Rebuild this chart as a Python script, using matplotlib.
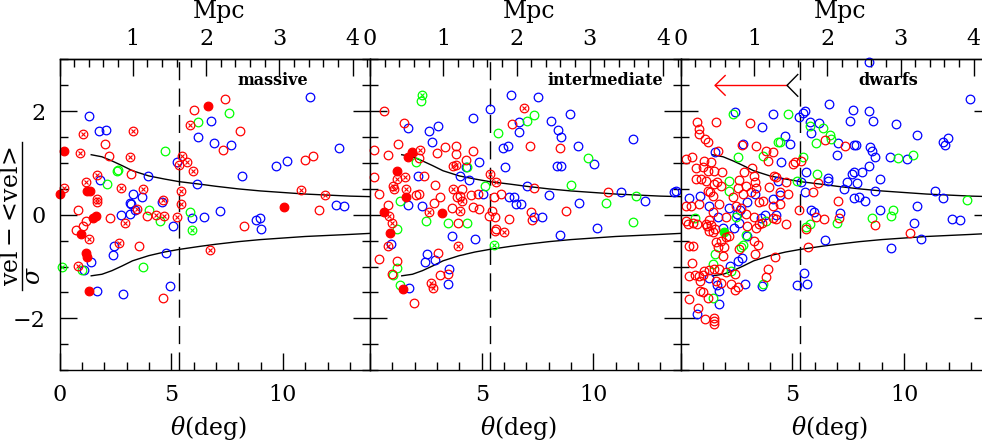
import matplotlib
matplotlib.use('Agg')
import matplotlib.pyplot as plt
from matplotlib.lines import Line2D
from matplotlib.ticker import MultipleLocator, FixedLocator, FixedFormatter

plt.rcParams['font.family'] = 'DejaVu Serif'
plt.rcParams['mathtext.fontset'] = 'dejavuserif'

# ---------------- data ----------------
panel_names = ['massive', 'intermediate', 'dwarfs']

# envelope curves (theta in deg, normalised velocity)
curve_theta = [1.42, 1.9, 2.35, 2.8, 3.27, 4.0, 4.7, 5.35, 6.3, 7.0, 8.0, 9.0, 10.0, 11.0, 12.0, 13.0, 13.9]
curve_upper = [1.16, 1.12, 1.04, 0.95, 0.85, 0.75, 0.69, 0.64, 0.59, 0.55, 0.50, 0.46, 0.43, 0.40, 0.38, 0.36, 0.35]
curve_lower = [-1.18, -1.15, -1.08, -0.99, -0.89, -0.79, -0.72, -0.67, -0.61, -0.57, -0.52, -0.48, -0.45, -0.42, -0.40, -0.38, -0.36]
theta_split = 5.35
deg_per_mpc = 3.28

# arrow in dwarfs panel
arrow_from = 4.76
arrow_to = 1.54
arrow_y = 2.50

# ---- massive ----
m_red_open = [(2.04,1.37),(2.22,1.14),(3.21,0.79),(0.81,0.09),(2.27,-0.06),(3.91,-0.02),(0.75,-0.30),(1.07,-0.21),
              (1.19,-0.12),(3.58,-0.61),(4.63,-1.61),(7.42,2.24),(6.04,2.03),(7.34,1.26),(8.09,1.61),(11.0,1.06),
              (11.37,1.13),(11.63,0.09),(8.27,-0.22)]
m_red_cross = [(1.07,1.57),(3.28,1.62),(0.91,1.20),(3.16,1.12),(5.48,1.14),(5.33,0.96),(5.70,1.01),(5.97,0.85),
               (1.67,0.77),(1.19,0.63),(0.18,0.51),(1.67,0.30),(1.70,0.24),(2.75,0.51),(3.76,0.50),(3.46,0.12),
               (4.64,0.29),(5.45,0.46),(5.43,0.21),(4.31,0.0),(4.70,-0.02),(5.25,-0.05),(2.94,-0.15),(1.34,-0.47),
               (2.67,-0.54),(0.81,-0.99),(6.72,-0.68),(5.85,1.74),(10.82,0.47),(11.90,0.39)]
m_red_fill = [(0.22,1.23),(1.22,0.46),(1.37,0.46),(0.0,0.40),(1.52,-0.06),(1.63,-0.02),(0.97,-0.37),(1.19,-0.73),
              (1.25,-0.81),(1.30,-1.47),(6.67,2.10),(10.07,0.15)]
m_blue = [(1.30,1.91),(1.79,1.61),(2.06,1.63),(5.25,1.01),(3.96,0.75),(1.82,0.68),(3.31,0.40),(3.69,0.35),(3.16,0.23),
          (3.21,0.21),(3.39,0.09),(4.57,0.25),(2.75,0.0),(3.16,0.01),(5.10,-0.21),(5.93,-0.06),(6.45,-0.05),(7.19,0.08),
          (2.42,-0.60),(2.39,-0.77),(1.40,-0.91),(1.10,-1.07),(4.76,-0.73),(1.67,-1.47),(2.84,-1.53),(4.93,-1.37),
          (6.78,1.81),(6.19,1.50),(6.93,1.38),(7.69,1.35),(6.15,0.60),(8.19,0.74),(9.70,0.95),(10.18,1.04),
          (11.22,2.27),(12.49,1.29),(12.37,0.19),(12.72,0.16),(8.81,-0.10),(8.99,-0.06),(9.01,-0.28)]
m_green = [(4.72,1.23),(2.57,0.84),(2.64,0.87),(2.12,0.59),(4.01,0.09),(4.48,-0.13),(5.85,0.06),(1.0,-1.06),
           (3.76,-1.01),(7.57,1.97),(6.19,1.79)]
m_green_cross = [(5.93,-0.30),(0.10,-1.01)]
m_green_fill = []

# ---- intermediate ----
i_red_open = [(0.64,2.00),(1.53,1.77),(6.35,1.75),(0.16,1.25),(0.79,1.15),(1.26,1.37),(2.20,1.10),(3.01,1.19),
              (3.34,1.30),(3.86,1.32),(3.83,1.17),(4.28,1.06),(4.60,1.23),(0.16,0.72),(2.42,0.74),(2.91,0.58),
              (0.42,0.41),(2.05,0.39),(2.20,0.40),(3.12,0.35),(2.87,0.22),(0.82,0.19),(3.95,-0.16),(4.10,0.50),
              (3.90,0.34),(4.05,0.37),(3.65,0.14),(4.54,0.39),(4.83,0.40),(4.62,0.15),(4.90,0.11),(5.54,0.34),
              (5.88,0.40),(5.46,0.08),(5.34,-0.02),(5.58,-0.05),(6.21,-0.08),(5.58,-0.32),(5.66,-0.28),(0.39,-0.86),
              (1.23,-0.90),(0.98,-1.15),(3.06,-0.74),(3.12,-1.17),(3.50,-1.15),(1.99,-1.70),(7.17,1.33),(8.51,1.29),
              (7.32,0.51),(10.66,0.43),(7.22,0.05),(7.25,-0.10),(8.76,0.07)]
i_red_cross = [(6.90,2.06),(2.24,1.26),(3.71,0.95),(3.86,0.97),(1.23,0.69),(1.05,0.56),(1.08,0.50),(1.56,0.72),
               (1.60,0.50),(2.64,0.06),(0.86,-0.02),(0.98,-0.15),(3.71,0.50),(4.13,0.26),(4.05,0.08),(5.39,0.79),
               (5.66,0.63),(5.98,-0.33),(3.93,-0.60),(0.79,-0.61),(2.75,-1.32),(2.84,-1.41)]
i_red_fill = [(1.90,1.22),(1.68,1.11),(1.23,0.85),(1.60,0.34),(3.21,0.03),(0.64,0.06),(0.91,-0.36),(1.46,-1.43)]
i_blue = [(1.72,1.67),(2.64,1.61),(3.06,1.71),(2.76,1.41),(4.60,1.86),(5.39,2.04),(6.31,2.31),(6.68,1.80),(6.68,1.59),
          (5.94,1.29),(6.16,1.33),(4.28,0.92),(4.02,0.74),(4.45,0.67),(4.87,1.01),(6.03,0.92),(2.15,0.74),(1.72,0.19),
          (2.32,0.16),(5.06,0.41),(6.21,0.34),(6.46,0.34),(6.53,0.21),(6.77,0.21),(7.05,0.55),(3.68,-0.42),(4.72,-0.46),
          (0.94,-0.57),(2.54,-0.75),(2.46,-0.91),(2.90,-0.88),(3.53,-1.05),(3.50,-1.34),(1.75,-1.41),(7.54,2.28),
          (8.95,1.95),(8.09,1.82),(8.43,1.64),(8.54,1.50),(11.79,1.46),(9.30,1.32),(10.04,0.98),(8.39,0.95),(8.55,0.95),
          (8.03,0.38),(11.22,0.43),(12.32,0.26),(13.60,0.44),(9.37,0.23),(7.36,-0.04),(7.69,-0.04),(10.14,-0.26),
          (8.49,-0.39)]
i_green = [(2.30,2.19),(7.02,1.82),(5.73,1.58),(2.05,1.01),(4.32,0.93),(1.35,0.27),(5.17,0.55),(1.19,-0.28),
           (2.52,-0.13),(3.50,-0.15),(4.32,-0.15),(1.23,-1.03),(1.04,-1.16),(1.34,-1.36),(7.35,1.93),(9.77,1.09),
           (8.98,0.57),(11.92,0.37),(10.57,0.23),(11.79,-0.14)]
i_green_cross = [(2.35,2.32),(5.55,-0.59)]
i_green_fill = []

# ---- dwarfs ----
d_red_open = [(0.72,1.79),(1.58,1.80),(0.84,1.66),(0.81,1.57),(1.11,1.46),(1.21,1.41),(3.10,1.77),(2.74,1.35),
              (3.39,1.32),(1.66,1.24),(0.24,1.08),(0.51,1.11),(1.03,1.04),(1.85,0.83),(0.69,0.90),(0.99,0.93),
              (1.36,1.01),(1.24,0.85),(1.51,0.85),(3.21,0.90),(2.84,0.82),(3.29,0.74),(0.69,0.69),(0.91,0.69),
              (1.14,0.66),(1.51,0.59),(1.80,0.56),(1.63,0.63),(2.62,0.67),(2.55,0.52),(2.92,0.56),(3.33,0.63),
              (3.36,0.52),(1.21,0.45),(1.33,0.43),(1.43,0.37),(2.32,0.34),(2.77,0.40),(3.14,0.43),(0.24,0.17),
              (0.47,0.17),(0.84,0.21),(1.73,0.21),(2.47,0.17),(2.69,0.14),(3.51,0.24),(2.03,-0.05),(1.43,0.05),
              (1.28,-0.10),(2.92,0.01),(3.26,-0.05),(0.24,-0.13),(0.72,-0.17),(1.14,-0.18),(3.66,-0.15),
              (6.44,1.45),(7.37,1.33),(3.84,1.24),(4.14,1.21),(3.91,1.03),(5.03,0.98),(5.10,1.01),(5.40,1.03),
              (6.14,0.61),(4.16,0.75),(4.25,0.72),(4.73,0.63),(3.96,0.53),(4.46,0.43),(4.80,0.41),(5.92,0.43),
              (7.06,0.27),(4.14,0.17),(4.43,0.21),(3.69,0.27),(5.29,0.10),(7.10,-0.06),(6.06,-0.05),(6.41,-0.08),
              (4.14,-0.07),(4.25,-0.08),(4.73,-0.18),(5.59,-0.28),(5.69,-0.62),(4.21,-0.81),(3.91,-1.05),(3.84,-1.21),
              (8.71,-0.20),(10.25,-0.36),
              (0.32,-0.18),(0.57,-0.15),(1.17,-0.21),(1.36,-0.19),(1.28,-0.31),(1.55,-0.28),(1.43,-0.34),(2.18,-0.41),
              (2.03,-0.43),(2.99,-0.21),(3.36,-0.25),(3.51,-0.18),(3.29,-0.50),(3.44,-0.58),(0.36,-0.60),(0.54,-0.60),
              (1.58,-0.52),(1.80,-0.50),(1.65,-0.63),(1.95,-0.63),(2.62,-0.66),(1.88,-0.79),(3.33,-0.75),(0.51,-0.94),
              (1.51,-1.05),(1.73,-1.04),(2.03,-1.10),(2.44,-1.15),(0.39,-1.18),(0.62,-1.17),(0.84,-1.18),(0.99,-1.16),
              (1.06,-1.08),(1.28,-1.07),(0.88,-1.28),(1.58,-1.28),(1.80,-1.31),(2.25,-1.34),(2.55,-1.39),(2.44,-1.46),
              (0.87,-1.48),(1.02,-1.50),(0.36,-1.63),(1.21,-1.61),(0.76,-1.81),(1.11,-2.02),(1.48,-1.99),(1.51,-2.05),
              (1.48,-2.11)]
d_red_cross = []
d_red_fill = []
d_blue = [(2.44,1.98),(2.77,1.37),(1.55,1.21),(-0.20,0.45),(0.36,0.32),(0.87,0.37),(3.33,0.41),(1.28,0.17),
          (2.18,0.14),(2.99,0.24),(2.52,0.01),(2.67,0.09),(1.69,-0.04),(2.62,-0.15),(3.59,-0.06),
          (6.66,2.14),(4.11,1.95),(5.55,2.01),(5.47,1.97),(5.29,1.88),(3.62,1.70),(5.80,1.80),(6.21,1.77),(5.84,1.58),
          (7.03,1.39),(6.98,1.16),(4.69,1.53),(4.88,1.37),(4.51,1.01),(5.62,0.83),(6.61,0.71),(6.58,0.66),(7.33,0.50),
          (5.40,0.64),(4.36,0.66),(5.58,0.43),(4.14,0.30),(4.43,0.38),(5.84,0.09),(5.95,0.06),(7.15,0.03),(3.76,-0.01),
          (4.25,0.0),(6.44,-0.49),(5.51,-1.13),(5.20,-1.36),(5.65,-1.34),(3.62,-1.37),
          (12.94,2.24),(7.70,2.02),(8.41,2.0),(7.60,1.82),(8.62,1.81),(9.66,1.75),(10.56,1.55),(11.75,1.41),
          (11.96,1.48),(11.81,1.35),(7.74,1.35),(7.85,1.35),(8.49,1.30),(8.56,1.24),(8.71,1.11),(9.36,1.11),
          (10.15,1.08),(8.44,0.95),(8.10,0.83),(7.74,0.82),(7.66,0.79),(8.93,0.69),(7.45,0.64),(7.88,0.61),
          (8.70,0.46),(11.37,0.46),(7.74,0.32),(8.0,0.34),(8.25,0.26),(11.75,0.32),(10.6,0.17),(8.93,0.10),
          (12.15,-0.08),(12.49,-0.10),(10.45,-0.16),(10.77,-0.46),(9.41,-0.64),(8.44,2.95),
          (1.88,-0.25),(2.40,-0.25),(2.99,-0.41),(2.55,-0.89),(2.74,-0.83),(2.21,-0.99),(1.25,-1.23),(1.61,-1.36),
          (1.73,-1.47),(2.89,-1.33),(1.70,-1.73),(0.72,-1.91)]
d_green = [(2.35,1.95),(2.55,1.11),(2.18,0.66),(2.15,0.46),(0.66,-0.06),(2.47,-0.05),
           (4.80,1.95),(5.77,1.72),(6.36,1.67),(6.69,1.54),(6.73,1.46),(6.04,1.38),(4.36,1.41),(4.46,1.40),
           (3.69,1.14),(5.47,1.11),(6.09,0.79),(5.20,0.66),(6.99,-0.15),(3.84,-0.12),(5.62,-0.23),(5.77,-0.18),
           (3.69,-1.34),(9.75,1.09),(10.42,1.15),(12.82,0.29),(9.51,0.10),(9.40,-0.02),(8.55,-0.07),
           (2.92,-0.39),(2.77,-0.58),(2.69,-0.62),(1.55,-0.76),(1.43,-0.95),(2.25,-1.08),(1.46,-1.61)]
d_green_cross = []
d_green_fill = [(1.95,-0.34)]

panels = [
    dict(red_open=m_red_open, red_cross=m_red_cross, red_fill=m_red_fill, blue=m_blue,
         green=m_green, green_cross=m_green_cross, green_fill=m_green_fill),
    dict(red_open=i_red_open, red_cross=i_red_cross, red_fill=i_red_fill, blue=i_blue,
         green=i_green, green_cross=i_green_cross, green_fill=i_green_fill),
    dict(red_open=d_red_open, red_cross=d_red_cross, red_fill=d_red_fill, blue=d_blue,
         green=d_green, green_cross=d_green_cross, green_fill=d_green_fill),
]

# ---------------- figure ----------------
W, H = 982, 444
fig = plt.figure(figsize=(W / 100, H / 100), dpi=100)

RED, BLUE, GREEN = '#ff0000', '#0000ff', '#00ff00'
ms, mew = 6.2, 0.9
lefts_px = [59.5, 370.0, 680.7]
width_px = 310.5
bottom_px = 370.0
height_px = 310.5


def xy(pts):
    return [p[0] for p in pts], [p[1] for p in pts]


for k, (name, data, lpx) in enumerate(zip(panel_names, panels, lefts_px)):
    ax = fig.add_axes([lpx / W, (H - bottom_px) / H, width_px / W, height_px / H])
    ax.set_xlim(0, 13.9)
    ax.set_ylim(-3, 3)

    # envelope and dividing line
    ax.plot(curve_theta, curve_upper, color='k', lw=1.0)
    ax.plot(curve_theta, curve_lower, color='k', lw=1.0)
    ax.axvline(theta_split, color='k', lw=1.0, dashes=(13, 6))

    kw = dict(linestyle='none', clip_on=False)
    x, y = xy(data['blue'])
    ax.plot(x, y, marker='o', ms=ms, mfc='none', mec=BLUE, mew=mew, **kw)
    x, y = xy(data['green'])
    ax.plot(x, y, marker='o', ms=ms, mfc='none', mec=GREEN, mew=mew, **kw)
    x, y = xy(data['green_cross'])
    ax.plot(x, y, marker='o', ms=ms, mfc='none', mec=GREEN, mew=mew, **kw)
    ax.plot(x, y, marker='x', ms=3.4, mec=GREEN, mew=0.8, **kw)
    x, y = xy(data['green_fill'])
    ax.plot(x, y, marker='o', ms=ms, mfc=GREEN, mec=GREEN, mew=mew, **kw)
    x, y = xy(data['red_open'])
    ax.plot(x, y, marker='o', ms=ms, mfc='none', mec=RED, mew=mew, **kw)
    x, y = xy(data['red_cross'])
    ax.plot(x, y, marker='o', ms=ms, mfc='none', mec=RED, mew=mew, **kw)
    ax.plot(x, y, marker='x', ms=3.4, mec=RED, mew=0.8, **kw)
    x, y = xy(data['red_fill'])
    ax.plot(x, y, marker='o', ms=ms, mfc=RED, mec=RED, mew=mew, **kw)

    ax.text(7.95, 2.59, name, ha='left', va='center', fontsize=11.5, fontweight='bold')

    if name == 'dwarfs':
        ax.plot([arrow_to, arrow_from], [arrow_y, arrow_y], color=RED, lw=1.0)
        ax.plot([arrow_to + 0.45, arrow_to, arrow_to + 0.45],
                [arrow_y + 0.19, arrow_y, arrow_y - 0.19], color=RED, lw=1.0)
        ax.plot([arrow_from + 0.48, arrow_from, arrow_from + 0.48],
                [arrow_y + 0.21, arrow_y, arrow_y - 0.21], color='k', lw=1.0)

    # ticks
    ax.xaxis.set_major_locator(FixedLocator([0, 5, 10]))
    ax.xaxis.set_minor_locator(MultipleLocator(1))
    ax.yaxis.set_major_locator(FixedLocator([-2, 0, 2]))
    ax.yaxis.set_minor_locator(MultipleLocator(0.5))
    ax.tick_params(which='both', direction='in', top=False, bottom=True, left=True, right=True,
                   width=1.0, labelsize=16, colors='k')
    ax.tick_params(which='major', length=12.5)
    ax.tick_params(which='minor', length=6)
    ax.tick_params(axis='x', pad=10)
    ax.tick_params(axis='y', pad=10)
    if k == 0:
        ax.xaxis.set_major_formatter(FixedFormatter(['0', '5', '10']))
    else:
        ax.xaxis.set_major_formatter(FixedFormatter(['', '5', '10']))
        ax.tick_params(axis='y', labelleft=False)
    for sp in ax.spines.values():
        sp.set_linewidth(1.0)

    sec = ax.secondary_xaxis('top', functions=(lambda d: d / deg_per_mpc, lambda m: m * deg_per_mpc))
    sec.xaxis.set_major_locator(FixedLocator([0, 1, 2, 3, 4]))
    sec.xaxis.set_minor_locator(MultipleLocator(0.2))
    sec.tick_params(which='both', direction='in', width=1.0, labelsize=16, pad=7)
    sec.tick_params(which='major', length=12.5)
    sec.tick_params(which='minor', length=6)
    labs = ['0', '1', '2', '3', '4'] if k > 0 else ['', '1', '2', '3', '4']
    sec.xaxis.set_major_formatter(FixedFormatter(labs))
    sec.spines['top'].set_linewidth(1.0)

    ax.text(0.479, -0.187, r'$\theta$(deg)', transform=ax.transAxes, ha='center', va='center', fontsize=17)
    ax.text(0.514, 1.156, 'Mpc', transform=ax.transAxes, ha='center', va='center', fontsize=17)

# y label: numerator, fraction bar, sigma (left-aligned under the bar, as in the reference)
fig.text(12 / W, 1 - 216 / H, r'$\mathrm{vel}-\!<\!\mathrm{vel}\!>$',
         rotation=90, ha='center', va='center', fontsize=17)
fig.add_artist(Line2D([22 / W, 22 / W], [1 - 142 / H, 1 - 290 / H], color='k', lw=1.0))
fig.text(33 / W, 1 - 276 / H, r'$\sigma$', rotation=90, ha='center', va='center', fontsize=17)

fig.savefig('out.png', dpi=100)
